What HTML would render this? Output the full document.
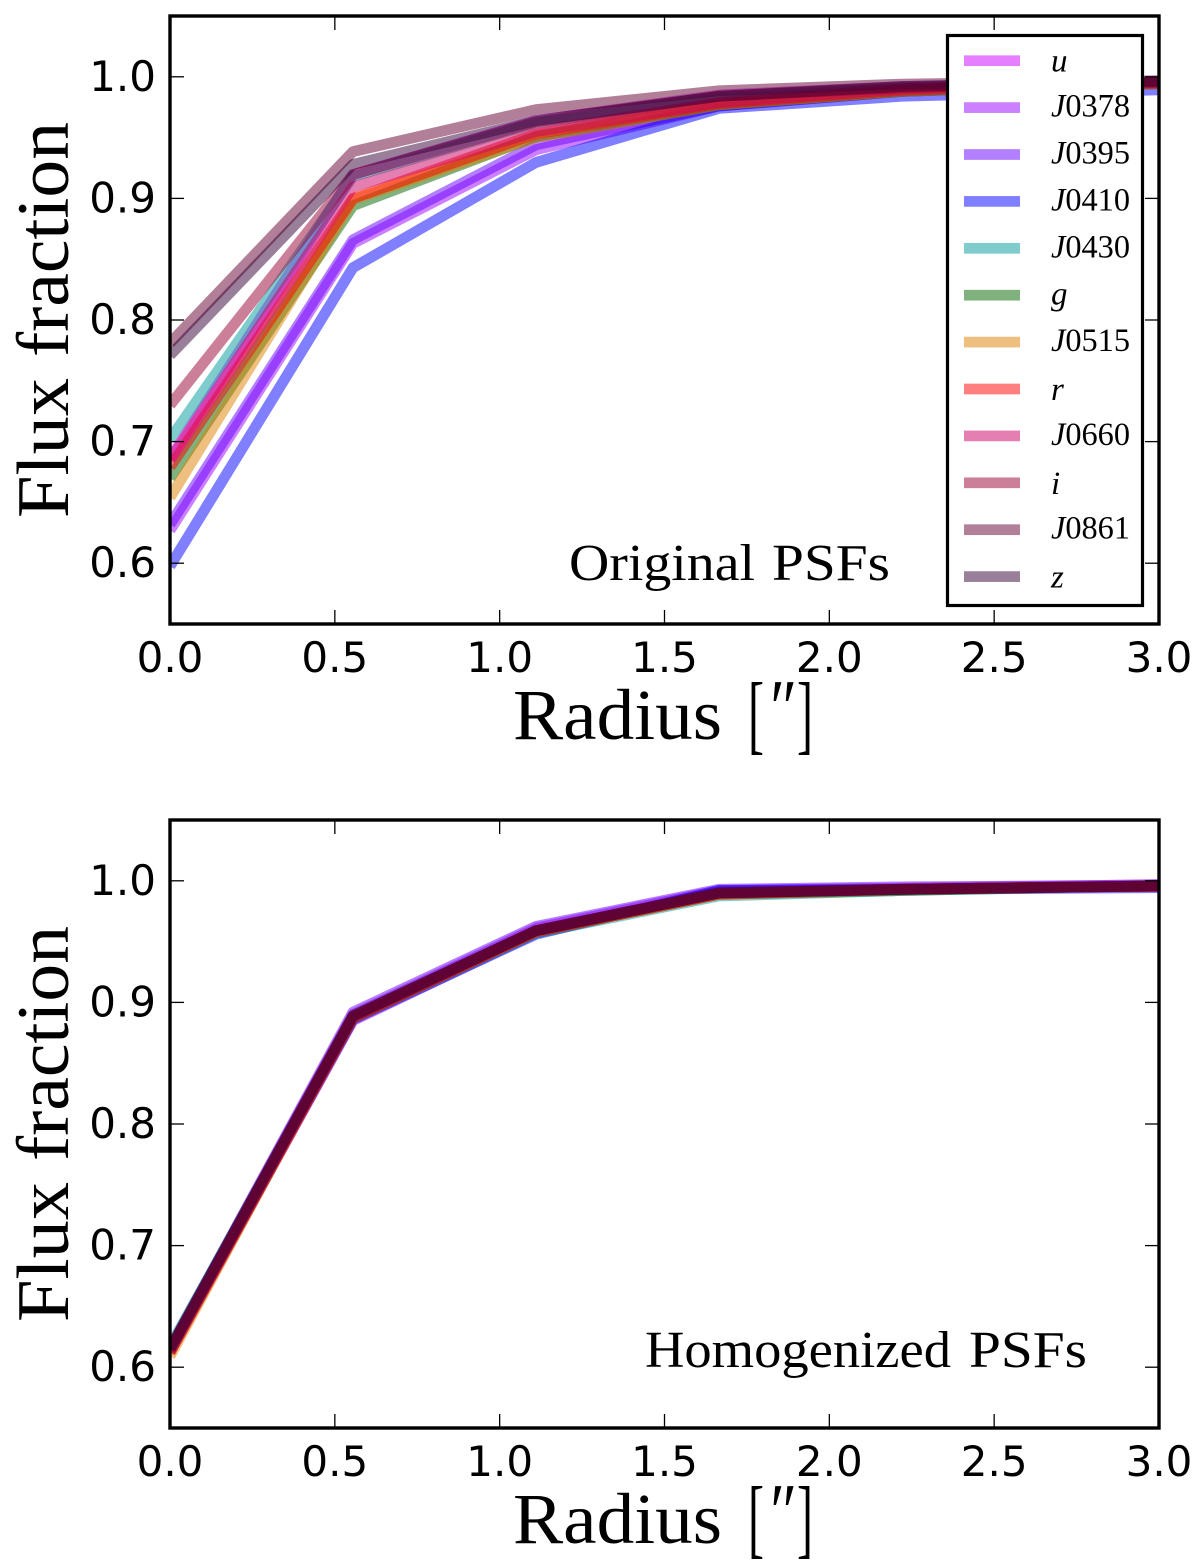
<!DOCTYPE html>
<html lang="en">
<head>
<meta charset="utf-8">
<title>Flux fraction versus radius</title>
<style>
html,body{margin:0;padding:0;background:#fff;}
svg{display:block;}
.tick-label{font-family:"DejaVu Sans","Liberation Sans",sans-serif;font-size:42px;fill:#000;}
.serif{font-family:"Liberation Serif",serif;fill:#000;}
</style>
</head>
<body>
<svg id="figure" xmlns="http://www.w3.org/2000/svg" width="1200" height="1567" viewBox="0 0 1200 1567"></svg>
<script>
const radii = [0, 0.555, 1.11, 1.665, 2.22, 2.775, 3.33];
const filterLabels = ['u', 'J0378', 'J0395', 'J0410', 'J0430', 'g', 'J0515', 'r', 'J0660', 'i', 'J0861', 'z'];
const xTickValues = [0, 0.5, 1, 1.5, 2, 2.5, 3];
const xTickLabels = ['0.0', '0.5', '1.0', '1.5', '2.0', '2.5', '3.0'];
const yTickValues = [0.6, 0.7, 0.8, 0.9, 1.0];
const yTickLabels = ['0.6', '0.7', '0.8', '0.9', '1.0'];

const originalU     = [0.686, 0.9195, 0.964, 0.985, 0.992, 0.995, 0.997];
const originalJ0378 = [0.627, 0.863, 0.940, 0.976, 0.988, 0.993, 0.996];
const originalJ0395 = [0.632, 0.866, 0.944, 0.976, 0.988, 0.993, 0.996];
const originalJ0410 = [0.5975, 0.843, 0.9296, 0.974, 0.984, 0.988, 0.991];
const originalJ0430 = [0.702, 0.918, 0.962, 0.982, 0.990, 0.994, 0.997];
const originalG     = [0.670, 0.894, 0.951, 0.977, 0.988, 0.993, 0.996];
const originalJ0515 = [0.654, 0.899, 0.950, 0.977, 0.988, 0.993, 0.996];
const originalR     = [0.679, 0.900, 0.953, 0.978, 0.989, 0.994, 0.996];
const originalJ0660 = [0.685, 0.9095, 0.955, 0.979, 0.990, 0.994, 0.997];
const originalI     = [0.730, 0.9195, 0.963, 0.984, 0.991, 0.995, 0.997];
const originalJ0861 = [0.781, 0.9385, 0.973, 0.9885, 0.994, 0.996, 0.998];
const originalZ     = [0.771, 0.928, 0.964, 0.984, 0.992, 0.995, 0.997];

const homogenizedU     = [0.615, 0.890, 0.961, 0.992, 0.994, 0.996, 0.998];
const homogenizedJ0378 = [0.613, 0.885, 0.957, 0.991, 0.993, 0.995, 0.996];
const homogenizedJ0395 = [0.615, 0.892, 0.9625, 0.993, 0.995, 0.996, 0.998];
const homogenizedJ0410 = [0.613, 0.886, 0.956, 0.992, 0.993, 0.994, 0.995];
const homogenizedJ0430 = [0.617, 0.887, 0.957, 0.9875, 0.992, 0.995, 0.997];
const homogenizedG     = [0.612, 0.887, 0.958, 0.989, 0.992, 0.995, 0.997];
const homogenizedJ0515 = [0.609, 0.888, 0.958, 0.989, 0.993, 0.995, 0.997];
const homogenizedR     = [0.612, 0.887, 0.958, 0.989, 0.993, 0.995, 0.9955];
const homogenizedJ0660 = [0.613, 0.888, 0.959, 0.990, 0.993, 0.995, 0.997];
const homogenizedI     = [0.614, 0.888, 0.959, 0.990, 0.993, 0.995, 0.997];
const homogenizedJ0861 = [0.615, 0.889, 0.959, 0.990, 0.993, 0.995, 0.997];
const homogenizedZ     = [0.615, 0.889, 0.959, 0.990, 0.993, 0.995, 0.997];

const originalSeries = [originalU, originalJ0378, originalJ0395, originalJ0410, originalJ0430, originalG, originalJ0515, originalR, originalJ0660, originalI, originalJ0861, originalZ];
const homogenizedSeries = [homogenizedU, homogenizedJ0378, homogenizedJ0395, homogenizedJ0410, homogenizedJ0430, homogenizedG, homogenizedJ0515, homogenizedR, homogenizedJ0660, homogenizedI, homogenizedJ0861, homogenizedZ];

const filterColors = ['#cc00ff', '#9900ff', '#6600ff', '#0000ff', '#009999', '#006600', '#dd8000', '#ff0000', '#cc0066', '#990033', '#660033', '#330033'];

const NS = 'http://www.w3.org/2000/svg';
const figure = document.getElementById('figure');

function make(tag, attrs, parent) {
  const el = document.createElementNS(NS, tag);
  for (const key in attrs) el.setAttribute(key, attrs[key]);
  (parent || figure).appendChild(el);
  return el;
}

function drawPanel(panel) {
  const left = 170, right = 1159, top = panel.top, bottom = panel.bottom;
  const xScale = function (v) { return left + (v / 3) * (right - left); };
  const yScale = function (v) { return bottom - ((v - 0.55) / 0.5) * (bottom - top); };

  const group = make('g', {});
  
  

  const clip = make('clipPath', { id: panel.id + '-clip' }, group);
  make('rect', { x: left, y: top, width: right - left, height: bottom - top }, clip);

  const plot = make('g', { 'clip-path': 'url(#' + panel.id + '-clip)' }, group);
  
  
  panel.series.forEach(function (values, s) {
    const d = values.map(function (v, i) {
      return (i ? 'L' : 'M') + xScale(radii[i]).toFixed(2) + ' ' + yScale(v).toFixed(2);
    }).join(' ');
    const line = make('path', { d: d, fill: 'none', stroke: filterColors[s], 'stroke-opacity': 0.5, 'stroke-width': 10.8, 'stroke-linejoin': 'round' }, plot);
    
    
  });

  const ticks = make('g', { stroke: '#000', 'stroke-width': 1.3 }, group);
  
  
  xTickValues.forEach(function (v) {
    const x = xScale(v);
    make('line', { x1: x, x2: x, y1: bottom, y2: bottom - 14 }, ticks);
    make('line', { x1: x, x2: x, y1: top, y2: top + 14 }, ticks);
  });
  yTickValues.forEach(function (v) {
    const y = yScale(v);
    make('line', { x1: left, x2: left + 14, y1: y, y2: y }, ticks);
    make('line', { x1: right, x2: right - 14, y1: y, y2: y }, ticks);
  });

  xTickValues.forEach(function (v, i) {
    const label = make('text', { x: xScale(v), y: bottom + 48, 'text-anchor': 'middle', class: 'tick-label' }, group);
    label.textContent = xTickLabels[i];
    
    
  });
  yTickValues.forEach(function (v, i) {
    const label = make('text', { x: 156, y: yScale(v) + 14, 'text-anchor': 'end', class: 'tick-label' }, group);
    label.textContent = yTickLabels[i];
    
    
  });

  const frame = make('rect', { x: left, y: top, width: right - left, height: bottom - top, fill: 'none', stroke: '#000', 'stroke-width': 3.4 }, group);
  
  

  const yTitleA = make('text', { transform: 'translate(68 ' + (top + 502) + ') rotate(-90)', class: 'serif', 'font-size': 74, textLength: 140, lengthAdjust: 'spacingAndGlyphs' }, group);
  yTitleA.textContent = 'Flux';
  
  

  const yTitleB = make('text', { transform: 'translate(68 ' + (top + 341) + ') rotate(-90)', class: 'serif', 'font-size': 74, textLength: 235, lengthAdjust: 'spacingAndGlyphs' }, group);
  yTitleB.textContent = 'fraction';
  
  

  const xTitle = make('text', { x: 513, y: bottom + 115, class: 'serif', 'font-size': 72, textLength: 209, lengthAdjust: 'spacingAndGlyphs' }, group);
  xTitle.textContent = 'Radius';
  
  

  const openBracket = make('text', { x: 748, y: bottom + 119, class: 'serif', 'font-size': 88, textLength: 16, lengthAdjust: 'spacingAndGlyphs' }, group);
  openBracket.textContent = '[';
  
  

  const arcsec = make('text', { x: 766, y: bottom + 111, class: 'serif', 'font-size': 80, 'font-style': 'italic', textLength: 27, lengthAdjust: 'spacingAndGlyphs' }, group);
  arcsec.textContent = '\u2033';
  
  

  const closeBracket = make('text', { x: 797, y: bottom + 119, class: 'serif', 'font-size': 88, textLength: 16, lengthAdjust: 'spacingAndGlyphs' }, group);
  closeBracket.textContent = ']';
  
  

  const noteA = make('text', { x: panel.noteX, y: panel.noteY, class: 'serif', 'font-size': 52, textLength: panel.noteWidth, lengthAdjust: 'spacingAndGlyphs' }, group);
  noteA.textContent = panel.note;
  
  

  const noteB = make('text', { x: panel.psfX, y: panel.noteY, class: 'serif', 'font-size': 52, textLength: 118, lengthAdjust: 'spacingAndGlyphs' }, group);
  noteB.textContent = 'PSFs';
  
  
}

function drawLegend() {
  const legend = make('g', {});
  
  
  make('rect', { x: 947.5, y: 35.5, width: 195, height: 570, fill: '#fff', stroke: '#000', 'stroke-width': 3.2 }, legend);
  filterLabels.forEach(function (name, i) {
    const y = 60.7 + i * 46.9;
    const entry = make('g', {}, legend);
    
    
    make('rect', { x: 964, y: y - 5.35, width: 56, height: 10.7, fill: filterColors[i], 'fill-opacity': 0.5 }, entry);
    const text = make('text', { x: 1051, y: y + (name.length > 1 ? 9 : (name === 'g' ? 9.5 : 11)), class: 'serif', 'font-size': 33 }, entry);
    const initial = make('tspan', { 'font-style': 'italic' }, text);
    initial.textContent = name.charAt(0);
    if (name.length > 1) {
      const digits = make('tspan', {}, text);
      digits.textContent = name.slice(1);
      text.setAttribute('textLength', 79);
      text.setAttribute('lengthAdjust', 'spacingAndGlyphs');
    }
  });
}

drawPanel({ id: 'original', top: 16, bottom: 624, series: originalSeries, note: 'Original', noteX: 569, noteY: 580, noteWidth: 186, psfX: 772 });
drawLegend();
drawPanel({ id: 'homogenized', top: 820, bottom: 1428, series: homogenizedSeries, note: 'Homogenized', noteX: 645, noteY: 1367, noteWidth: 306, psfX: 969 });
</script>
</body>
</html>
